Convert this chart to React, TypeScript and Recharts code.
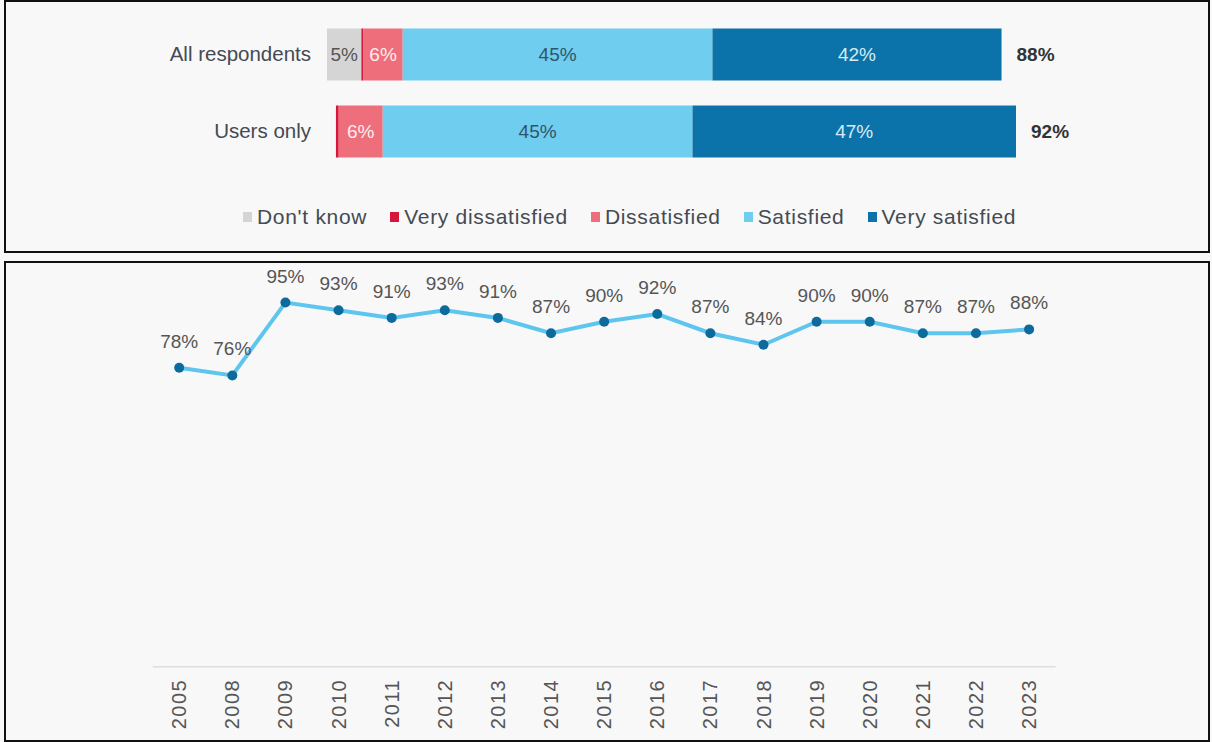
import React from "react";
import {
  BarChart,
  Bar,
  XAxis,
  YAxis,
  Legend,
  LabelList,
  ComposedChart,
  Line,
} from "recharts";

// ---------- Data: satisfaction breakdown ----------
const categories = ["All respondents", "Users only"];
const leadGap = [0, 1.3];
const dontKnow = [5, 0];
const veryDissatisfied = [0.3, 0.4];
const dissatisfied = [5.7, 6.4];
const satisfied = [45, 45];
const verySatisfied = [42, 47];
const netSatisfied = [88, 92];
const seriesNames = ["Don't know", "Very dissatisfied", "Dissatisfied", "Satisfied", "Very satisfied"];

// ---------- Data: satisfaction over time ----------
const years = [
  "2005", "2008", "2009", "2010", "2011", "2012", "2013", "2014", "2015",
  "2016", "2017", "2018", "2019", "2020", "2021", "2022", "2023",
];
const satisfaction = [78, 76, 95, 93, 91, 93, 91, 87, 90, 92, 87, 84, 90, 90, 87, 87, 88];

const barData = categories.map((name, i) => ({
  name,
  gap: leadGap[i],
  dontKnow: dontKnow[i],
  veryDissatisfied: veryDissatisfied[i],
  dissatisfied: dissatisfied[i],
  satisfied: satisfied[i],
  verySatisfied: verySatisfied[i],
  net: netSatisfied[i],
}));

const lineData = years.map((year, i) => ({ year, value: satisfaction[i] }));

const FONT = "'Liberation Sans', Arial, sans-serif";

const COLORS = {
  dontKnow: "#d5d5d5",
  veryDissatisfied: "#d6163a",
  dissatisfied: "#ee6f7b",
  satisfied: "#6fcdf0",
  verySatisfied: "#0b73a9",
};

const pct = (v: any) => {
  const n = Number(v);
  return n >= 1 ? `${Math.round(n)}%` : "";
};

const LegendContent = (props: any) => {
  const items = (props.payload || [])
    .filter((p: any) => seriesNames.includes(p.value))
    .sort((a: any, b: any) => seriesNames.indexOf(a.value) - seriesNames.indexOf(b.value));
  return (
    <div
      style={{
        height: 61.5,
        boxSizing: "border-box",
        paddingTop: 34,
        paddingLeft: 243,
        display: "flex",
        alignItems: "center",
        fontFamily: FONT,
        fontSize: 21,
        letterSpacing: 0.7,
        color: "#454a52",
      }}
    >
      {items.map((it: any) => (
        <div
          key={it.value}
          style={{ display: "flex", alignItems: "center", marginRight: 23, height: 24 }}
        >
          <span
            style={{
              display: "inline-block",
              width: 9,
              height: 10,
              background: it.color,
              marginRight: 5,
            }}
          />
          <span style={{ lineHeight: "24px" }}>{it.value}</span>
        </div>
      ))}
    </div>
  );
};

const YearTick = (props: any) => {
  const { x, y, payload } = props;
  const ty = y + 4;
  return (
    <text
      x={x}
      y={ty}
      transform={`rotate(-90 ${x} ${ty})`}
      textAnchor="end"
      dominantBaseline="central"
      fontFamily={FONT}
      fontSize={20}
      letterSpacing={1.5}
      fill="#555"
    >
      {payload.value}
    </text>
  );
};

const panelStyle: React.CSSProperties = {
  position: "absolute",
  left: 4,
  width: 1206,
  border: "2px solid #111",
  boxSizing: "border-box",
  background: "#f8f8f8",
};

export default function App() {
  return (
    <div
      style={{
        position: "absolute",
        left: 0,
        top: 0,
        width: 1212,
        height: 742,
        background: "#f8f8f8",
        overflow: "hidden",
      }}
    >
      <div style={{ ...panelStyle, top: 0, height: 253 }} />
      <div style={{ ...panelStyle, top: 261, height: 481 }} />

      <div style={{ position: "absolute", left: 0, top: 0 }}>
        <BarChart
          width={1212}
          height={250}
          data={barData}
          layout="vertical"
          barSize={52}
          margin={{ top: 15.5, right: 196, bottom: 19, left: 0 }}
        >
          <XAxis type="number" domain={[0, 100]} hide />
          <YAxis
            type="category"
            dataKey="name"
            width={327}
            axisLine={false}
            tickLine={false}
            tickMargin={10}
            tick={{ fontFamily: FONT, fontSize: 20.5, fill: "#454a52" }}
          />
          <Legend
            verticalAlign="bottom"
            wrapperStyle={{ left: 0, width: 1212 }}
            content={<LegendContent />}
          />
          <Bar dataKey="gap" stackId="s" fill="transparent" legendType="none" isAnimationActive={false} />
          <Bar dataKey="dontKnow" name={seriesNames[0]} stackId="s" fill={COLORS.dontKnow} isAnimationActive={false}>
            <LabelList dataKey="dontKnow" position="center" formatter={pct} fill="#555" fontFamily={FONT} fontSize={19} />
          </Bar>
          <Bar dataKey="veryDissatisfied" name={seriesNames[1]} stackId="s" fill={COLORS.veryDissatisfied} isAnimationActive={false} />
          <Bar dataKey="dissatisfied" name={seriesNames[2]} stackId="s" fill={COLORS.dissatisfied} isAnimationActive={false}>
            <LabelList dataKey="dissatisfied" position="center" formatter={pct} fill="#fdecee" fontFamily={FONT} fontSize={19} />
          </Bar>
          <Bar dataKey="satisfied" name={seriesNames[3]} stackId="s" fill={COLORS.satisfied} isAnimationActive={false}>
            <LabelList dataKey="satisfied" position="center" formatter={pct} fill="#2f5568" fontFamily={FONT} fontSize={19} />
          </Bar>
          <Bar dataKey="verySatisfied" name={seriesNames[4]} stackId="s" fill={COLORS.verySatisfied} isAnimationActive={false}>
            <LabelList dataKey="verySatisfied" position="center" formatter={pct} fill="#d6ebf5" fontFamily={FONT} fontSize={19} />
            <LabelList
              dataKey="net"
              position="right"
              offset={15}
              formatter={(v: any) => `${v}%`}
              fill="#333"
              fontFamily={FONT}
              fontSize={19}
              fontWeight="bold"
            />
          </Bar>
        </BarChart>
      </div>

      <div style={{ position: "absolute", left: 0, top: 262 }}>
        <ComposedChart
          width={1212}
          height={478}
          data={lineData}
          margin={{ top: 21.4, right: 156.4, bottom: 3.2, left: 152.7 }}
        >
          <XAxis
            dataKey="year"
            height={70}
            interval={0}
            padding={{ left: 26.5, right: 26.5 }}
            tickLine={false}
            axisLine={{ stroke: "#dedede", strokeWidth: 1.5 }}
            tick={<YearTick />}
          />
          <YAxis domain={[0, 100]} hide />
          <Line
            type="linear"
            dataKey="value"
            stroke="#5ec5ef"
            strokeWidth={4}
            dot={{ r: 5, fill: "#0d6a9c", stroke: "none" }}
            activeDot={false}
            isAnimationActive={false}
          >
            <LabelList
              dataKey="value"
              position="top"
              offset={20}
              formatter={(v: any) => `${v}%`}
              fill="#555"
              fontFamily={FONT}
              fontSize={19}
            />
          </Line>
        </ComposedChart>
      </div>
    </div>
  );
}
